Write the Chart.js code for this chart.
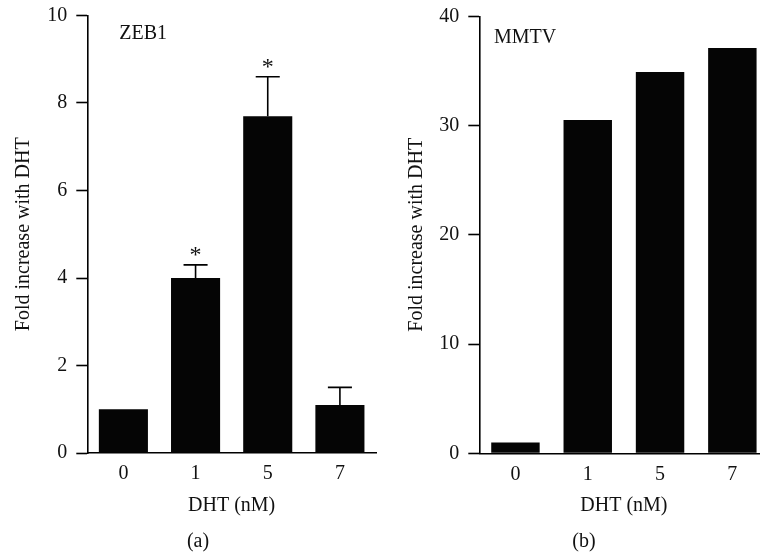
<!DOCTYPE html>
<html><head><meta charset="utf-8">
<script src="https://cdn.jsdelivr.net/npm/chart.js@4/dist/chart.umd.min.js"></script>
<style>
html,body{margin:0;padding:0;background:#fff;overflow:hidden;width:760px;height:554px;}
#wrapA{position:absolute;left:0;top:0;width:380px;height:554px;}
#wrapB{position:absolute;left:380px;top:0;width:400px;height:554px;}
canvas{display:block;}
</style></head><body>
<div id="wrapA"><canvas id="cA" width="380" height="554"></canvas></div>
<div id="wrapB"><canvas id="cB" width="400" height="554"></canvas></div>
<script>
// ---- data ----
const categories = ['0', '1', '5', '7'];
const zeb1Values = [1.0, 4.0, 7.7, 1.1];
const zeb1ErrUp = [0, 0.3, 0.9, 0.4];
const zeb1Significant = [false, true, true, false];
const mmtvValues = [1.0, 30.5, 34.9, 37.1];
const mmtvErrUp = [0, 0, 0, 0];
const mmtvSignificant = [false, false, false, false];
const zeb1Ticks = [0, 2, 4, 6, 8, 10];
const mmtvTicks = [0, 10, 20, 30, 40];
const yTitle = 'Fold increase with DHT';
const xTitle = 'DHT (nM)';

const FONT = "'Liberation Serif', 'Times New Roman', serif";
const INK = '#111';

const annot = {
  id: 'annot',
  afterDatasetsDraw(chart, args, opts) {
    const ctx = chart.ctx;
    const meta = chart.getDatasetMeta(0);
    const ys = chart.scales.y;
    const ca = chart.chartArea;
    ctx.save();
    // error bars + significance stars
    meta.data.forEach((bar, i) => {
      const v = opts.values[i], e = opts.err[i];
      let topY = ys.getPixelForValue(v);
      if (e > 0) {
        const ey = ys.getPixelForValue(v + e);
        const half = bar.width * 0.245;
        ctx.strokeStyle = '#000';
        ctx.lineWidth = 1.6;
        ctx.beginPath();
        ctx.moveTo(bar.x, topY);
        ctx.lineTo(bar.x, ey);
        ctx.moveTo(bar.x - half, ey);
        ctx.lineTo(bar.x + half, ey);
        ctx.stroke();
        topY = ey;
      }
      if (opts.sig[i]) {
        ctx.font = '24px ' + FONT;
        ctx.fillStyle = INK;
        ctx.textAlign = 'center';
        ctx.textBaseline = 'alphabetic';
        const m = ctx.measureText('*');
        const cy = topY - 13;
        const base = cy + (m.actualBoundingBoxAscent - m.actualBoundingBoxDescent) / 2;
        ctx.fillText('*', bar.x, base);
      }
    });
    // gene label
    ctx.font = '20px ' + FONT;
    ctx.fillStyle = INK;
    ctx.textAlign = 'left';
    ctx.textBaseline = 'middle';
    ctx.fillText(opts.label, ca.left + opts.labelDx, ca.top + opts.labelDy);
    // panel letter
    ctx.textAlign = 'center';
    ctx.fillText(opts.panel, opts.panelX, opts.panelY);
    ctx.restore();
  }
};

function makeChart(id, values, err, sig, ticks, label, panel, geom) {
  return new Chart(document.getElementById(id), {
    type: 'bar',
    data: {
      labels: categories,
      datasets: [{
        data: values,
        backgroundColor: '#050505',
        borderWidth: 0,
        categoryPercentage: 1.0,
        barPercentage: geom.barPct
      }]
    },
    options: {
      responsive: false,
      animation: false,
      devicePixelRatio: 1,
      layout: { padding: { top: geom.padTop, right: geom.padRight, bottom: 0, left: 0 } },
      plugins: {
        legend: { display: false },
        tooltip: { enabled: false },
        annot: {
          values: values, err: err, sig: sig, label: label,
          labelDx: geom.labelDx, labelDy: geom.labelDy,
          panel: panel, panelX: geom.panelX, panelY: 542
        }
      },
      scales: {
        x: {
          grid: { display: false, drawTicks: false, drawOnChartArea: false },
          border: { display: true, color: '#000', width: 1.6 },
          ticks: { font: { family: FONT, size: 20 }, color: INK, padding: 9 },
          title: { display: true, text: xTitle, font: { family: FONT, size: 20 }, color: INK,
                   padding: { top: 0, bottom: 36 } },
          afterFit: s => { s.height = geom.xHeight; }
        },
        y: {
          min: ticks[0],
          max: ticks[ticks.length - 1],
          grid: { display: true, drawOnChartArea: false, drawTicks: true, tickLength: 11,
                  tickColor: '#000', tickWidth: 1.6, color: '#000' },
          border: { display: true, color: '#000', width: 1.6 },
          ticks: { stepSize: ticks[1] - ticks[0], font: { family: FONT, size: 20, lineHeight: 0.6 },
                   color: INK, padding: 9 },
          title: { display: true, text: yTitle, font: { family: FONT, size: 20 }, color: INK,
                   padding: { top: geom.titlePad, bottom: 0 } },
          afterFit: s => { s.width = geom.yWidth; }
        }
      }
    },
    plugins: [annot]
  });
}

makeChart('cA', zeb1Values, zeb1ErrUp, zeb1Significant, zeb1Ticks, 'ZEB1', '(a)',
  { barPct: 0.68, padTop: 15.5, padRight: 4, yWidth: 87.3, xHeight: 101, titlePad: 11.5,
    labelDx: 32, labelDy: 18.5, panelX: 198 });
makeChart('cB', mmtvValues, mmtvErrUp, mmtvSignificant, mmtvTicks, 'MMTV', '(b)',
  { barPct: 0.67, padTop: 16.3, padRight: 11.5, yWidth: 99.3, xHeight: 100.7, titlePad: 24.5,
    labelDx: 14.7, labelDy: 21.7, panelX: 204 });
</script>
</body></html>
